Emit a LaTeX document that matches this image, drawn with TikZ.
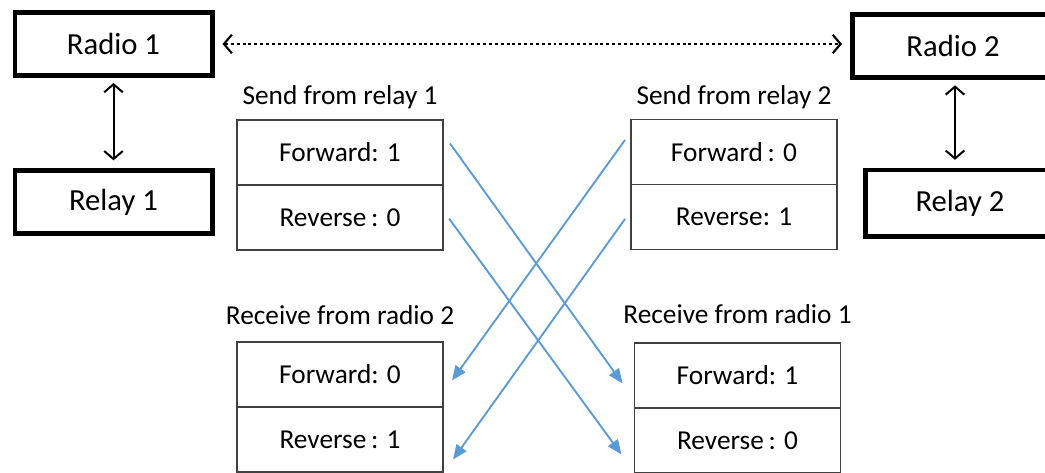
\documentclass[tikz,border=0pt]{standalone}
\usepackage{fontspec}
\setmainfont{Carlito}
\usetikzlibrary{positioning, calc, arrows.meta}
\definecolor{AzulFlecha}{HTML}{5B9BD5}
\definecolor{GrisBorde}{HTML}{404040}

\begin{document}
\begin{tikzpicture}[
    x=0.75pt, y=-0.75pt, % un pixel del dibujo original
    caja/.style={draw, line width=3.5pt, minimum width=148pt, minimum height=47pt, inner sep=0pt, font=\fontsize{23}{27}\selectfont},
    fila/.style={draw=GrisBorde, line width=0.9pt, minimum width=154.5pt, minimum height=48.75pt, inner sep=0pt, outer sep=0pt, font=\fontsize{20.5}{24}\selectfont},
    titulo/.style={font=\fontsize{20.5}{24}\selectfont, inner sep=0pt},
    enlace/.style={line width=1.5pt, {Straight Barb[length=6pt,width=14pt]}-{Straight Barb[length=6pt,width=14pt]}, shorten <=4pt, shorten >=6pt},
    cruce/.style={AzulFlecha, line width=1.4pt, -{Triangle[length=11pt,width=9pt]}}
]
    \path[use as bounding box, clip] (0,0) rectangle (1045,473);

    % 1. Radios y relays (lados)
    \node[caja] (radio1) at (113.5,44) {Radio 1};
    \node[caja] (relay1) at (113.5,202) {Relay 1};
    \node[caja, minimum width=151pt, minimum height=47.5pt] (radio2) at (953,46) {Radio 2};
    \node[caja, minimum width=142pt, minimum height=50pt] (relay2) at (960,203.5) {Relay 2};

    \draw[enlace] (radio1) -- (relay1);
    \draw[enlace] ($(radio2.south)+(2,0)$) coordinate (a2) -- (a2 |- relay2.north);
    \draw[line width=2.2pt, dash pattern=on 2.2pt off 2.2pt, shorten <=6pt, shorten >=6pt, {Straight Barb[length=6pt,width=14pt,line width=1.6pt]}-{Straight Barb[length=6pt,width=14pt,line width=1.6pt]}] (radio1.east) -- (radio1.east -| radio2.west);

    % 2. Tablas de envio (arriba)
    \node[fila] (s1f) at (340,152.5) {Forward: 1};
    \node[fila, below=0pt of s1f] (s1r) {Reverse\,: 0};
    \node[titulo, above=8pt of s1f] (s1t) {Send from relay 1};

    \node[fila] (s2f) at (734,152) {Forward\,: 0};
    \node[fila, below=0pt of s2f] (s2r) {Reverse: 1};
    \node[titulo, above=8pt of s2f] (s2t) {Send from relay 2};

    % 3. Tablas de recepcion (abajo)
    \node[fila] (r2f) at (340,374.5) {Forward: 0};
    \node[fila, below=0pt of r2f] (r2r) {Reverse\,: 1};
    \node[titulo, above=13pt of r2f] (r2t) {Receive from radio 2};

    \node[fila] (r1f) at (737.5,375.5) {Forward: 1};
    \node[fila, below=0pt of r1f] (r1r) {Reverse\,: 0};
    \node[titulo, above=14pt of r1f] (r1t) {Receive from radio 1};

    % 4. Flechas cruzadas
    \draw[cruce] ($(s1f.east)+(7,-9)$) -- ($(r1f.west)+(-12,8)$);
    \draw[cruce] ($(s1r.east)+(6,1)$) -- ($(r1r.west)+(-13,14)$);
    \draw[cruce] ($(s2f.west)+(-6,-12)$) -- ($(r2f.east)+(9,6)$);
    \draw[cruce] ($(s2r.west)+(-6,2)$) -- ($(r2r.east)+(10,20)$);

\end{tikzpicture}
\end{document}
